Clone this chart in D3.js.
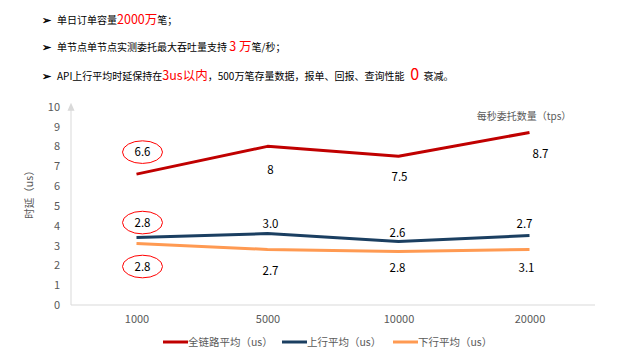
<!DOCTYPE html>
<html><head><meta charset="utf-8">
<script src="https://cdn.jsdelivr.net/npm/d3@7/dist/d3.min.js"></script>
<style>body{margin:0;background:#fff}svg{display:block}text{font-family:"Microsoft YaHei","Noto Sans CJK SC",sans-serif}</style>
</head><body><svg id="c" width="626" height="356"></svg>
<script>
const categories = ["1000","5000","10000","20000"];
const yTicks = [0,1,2,3,4,5,6,7,8,9,10];
const seriesNames = ["全链路平均（us）","上行平均（us）","下行平均（us）"];
const fullValues = [6.6, 8, 7.5, 8.7];
const upValues = [3.4, 3.6, 3.2, 3.5];
const downValues = [3.1, 2.8, 2.7, 2.8];
const fullLabels = ["6.6","8","7.5","8.7"];
const upLabels = ["2.8","3.0","2.6","2.7"];
const downLabels = ["2.8","2.7","2.8","3.1"];
const circledIndex = 0;

const colors = ["#c00000","#1b3f61","#ff9a52"];
// label offsets (layout only)
const labelOffsets = [
  [[6,-22],[3,24],[1,21],[11,21]],
  [[6,-15],[3,-10],[-1,-9],[-5,-12]],
  [[6,23],[3,21],[-1,17],[-3,18]]
];

const svg = d3.select("#c");
const m = {l:71, r:595, t:106, b:305};
const x = d3.scalePoint().domain(categories).range([m.l, m.r]).padding(0.5);
const y = d3.scaleLinear().domain([0,10]).range([m.b, 106.7]);

// header
const hdr = [
  [{t:"单日订单容量"},{t:"2000万",red:1,fs:12.5},{t:"笔；"}],
  [{t:"单节点单节点实测委托最大吞吐量支持 "},{t:"3 万",red:1,fs:12.5},{t:"笔/秒；"}],
  [{t:"API上行平均时延保持在"},{t:"3us以内",red:1,fs:12.5},{t:"，500万笔存量数据，报单、回报、查询性能 "},{t:" 0",red:1,fs:16},{t:"  衰减。"}]
];
const hy = [24, 51, 80];
hdr.forEach((parts,i)=>{
  svg.append("text").attr("x",42).attr("y",hy[i]-0.5).attr("font-size",11).attr("font-family","DejaVu Sans").attr("font-weight","bold").attr("fill","#000").text("➢");
  const t = svg.append("text").attr("x",57).attr("y",hy[i]).attr("font-size",10).attr("fill","#000");
  parts.forEach(p=>{
    t.append("tspan").attr("fill",p.red?"#ff0000":"#000").attr("font-size",p.fs||10).attr("xml:space","preserve").text(p.t);
  });
});

// axes
const g = svg.append("g");
g.append("line").attr("x1",m.l).attr("x2",m.r).attr("y1",y(0)).attr("y2",y(0)).attr("stroke","#d9d9d9").attr("stroke-width",1);
g.append("line").attr("x1",m.l).attr("x2",m.l).attr("y1",y(0)).attr("y2",y(10)).attr("stroke","#d9d9d9").attr("stroke-width",1);
g.append("path").attr("d",`M${m.l},${y(10)-4} L${m.l-3.5},${y(10)+4} L${m.l+3.5},${y(10)+4}Z`).attr("fill","#d9d9d9");

const yAxis = d3.axisLeft(y).tickValues(yTicks).tickSize(0).tickPadding(11);
const ya = svg.append("g").attr("transform",`translate(${m.l},0)`).call(yAxis);
ya.select(".domain").remove();
ya.selectAll("text").attr("font-size",11).attr("fill","#595959").attr("font-family","'Microsoft YaHei','Noto Sans CJK SC',sans-serif");

const xAxis = d3.axisBottom(x).tickSize(0).tickPadding(10);
const xa = svg.append("g").attr("transform",`translate(0,${y(0)})`).call(xAxis);
xa.select(".domain").remove();
xa.selectAll("text").attr("font-size",11).attr("fill","#595959").attr("font-family","'Microsoft YaHei','Noto Sans CJK SC',sans-serif");

svg.append("text").attr("transform","translate(33,192) rotate(-90)").attr("text-anchor","middle")
  .attr("font-size",10.5).attr("fill","#595959").text("时延（us）");
svg.append("text").attr("x",524).attr("y",120).attr("text-anchor","middle")
  .attr("font-size",10).attr("fill","#595959").text("每秒委托数量（tps）");

// lines
const allValues = [fullValues, upValues, downValues];
const allLabels = [fullLabels, upLabels, downLabels];
const line = d3.line().x((d,i)=>x(categories[i])).y(d=>y(d));
allValues.forEach((vals,si)=>{
  svg.append("path").attr("d",line(vals)).attr("fill","none").attr("stroke",colors[si]).attr("stroke-width",3).attr("stroke-linejoin","round");
});
allLabels.forEach((labs,si)=>{
  labs.forEach((lab,i)=>{
    const px = x(categories[i]) + labelOffsets[si][i][0];
    const py = y(allValues[si][i]) + labelOffsets[si][i][1];
    svg.append("text").attr("x",px).attr("y",py).attr("dy","0.35em").attr("text-anchor","middle")
      .attr("font-size",11.5).attr("fill","#000").text(lab);
    if(i===circledIndex){
      svg.append("ellipse").attr("cx",px).attr("cy",py).attr("rx",20).attr("ry",11.3)
        .attr("fill","none").attr("stroke","#ff0000").attr("stroke-width",1);
    }
  });
});

// legend
const lx = [163, 282, 393];
seriesNames.forEach((n,i)=>{
  svg.append("line").attr("x1",lx[i]).attr("x2",lx[i]+25).attr("y1",342).attr("y2",342).attr("stroke",colors[i]).attr("stroke-width",3);
  svg.append("text").attr("x",lx[i]+25).attr("y",342).attr("dy","0.35em").attr("font-size",10.5).attr("fill","#595959").text(n);
});
</script></body></html>
